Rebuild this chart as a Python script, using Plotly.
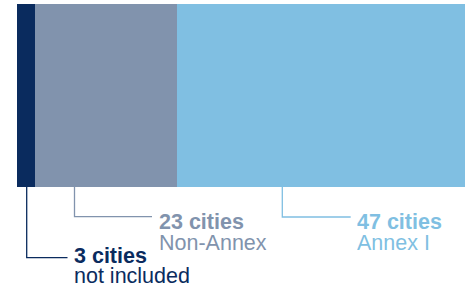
import plotly.graph_objects as go

categories = ["not included", "Non-Annex", "Annex I"]
counts = [3, 23, 47]
count_labels = ["3 cities", "23 cities", "47 cities"]
colors = ["#0a2b5e", "#8193ad", "#80bfe2"]

W, H = 473, 295
X0, X1 = 17, 465   # bar pixel extent
total = sum(counts)
scale = (X1 - X0) / total


def dx(px):
    return (px - X0) / scale


fig = go.Figure()
base = 0
for cat, n, c in zip(categories, counts, colors):
    fig.add_trace(go.Bar(
        x=[n], y=[95.5], base=[base], orientation="h", width=183,
        marker=dict(color=c, line=dict(width=0)),
        name=cat, hoverinfo="skip", showlegend=False,
    ))
    base += n

# callout geometry (pixels)
leader_x = [26.7, 74.5, 282.3]
elbow_y = [257.7, 216.7, 217.0]
line_end = [67.5, 152.0, 350.7]
text_x = [72.0, 156.7, 354.7]
base1 = [264.0, 229.3, 229.3]
base2 = [283.5, 250.3, 250.3]
FS = 21.5

for i in range(3):
    fig.add_trace(go.Scatter(
        x=[dx(leader_x[i]), dx(leader_x[i]), dx(line_end[i])],
        y=[187, elbow_y[i], elbow_y[i]],
        mode="lines", line=dict(color=colors[i], width=1.3),
        hoverinfo="skip", showlegend=False,
    ))
    fig.add_annotation(
        x=dx(text_x[i]), y=base1[i] - 0.36 * FS, xref="x", yref="y",
        text="<b>" + count_labels[i] + "</b>", showarrow=False,
        xanchor="left", yanchor="middle", height=20,
        font=dict(family="Liberation Sans, Arial", size=FS, color=colors[i]),
    )
    fig.add_annotation(
        x=dx(text_x[i]), y=base2[i] - 0.36 * FS, xref="x", yref="y",
        text=categories[i], showarrow=False,
        xanchor="left", yanchor="middle", height=20,
        font=dict(family="Liberation Sans, Arial", size=FS, color=colors[i]),
    )

fig.update_layout(
    width=W, height=H, margin=dict(l=0, r=0, t=0, b=0),
    paper_bgcolor="white", plot_bgcolor="white", barmode="overlay",
    bargap=0, hovermode=False,
    xaxis=dict(range=[dx(0), dx(W)], visible=False, fixedrange=True),
    yaxis=dict(range=[H, 0], visible=False, fixedrange=True),
)

fig.write_html(
    "out.html",
    config={"displayModeBar": False, "staticPlot": True},
    post_script="document.body.style.margin='0';document.body.style.overflow='hidden';",
)
